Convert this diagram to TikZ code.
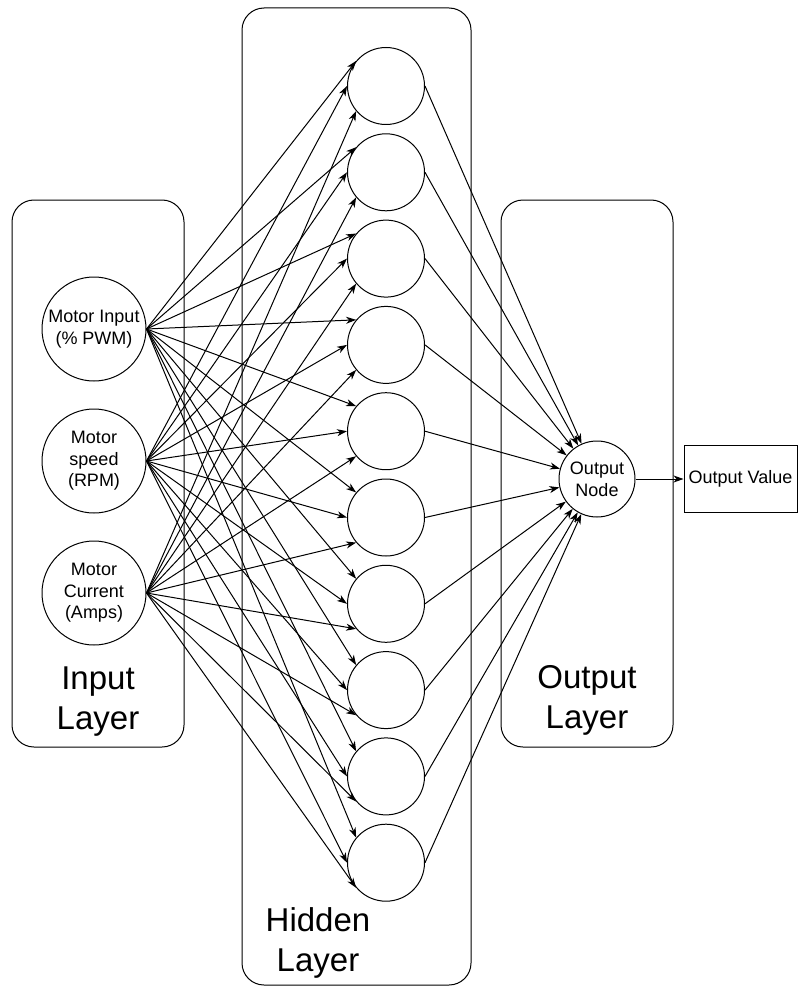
\documentclass[tikz,border=0pt]{standalone}
\usepackage{fontspec}
\setmainfont{Liberation Sans}
\usetikzlibrary{arrows.meta,positioning}

\begin{document}
\begin{tikzpicture}[x=1pt,y=-1pt,line width=1pt,
	neuron/.style={draw, circle, fill=white, inner sep=0pt, align=center, font=\fontsize{18}{21.6}\selectfont},
	layerbox/.style={draw, rounded corners=22pt},
	layertext/.style={align=center, font=\fontsize{33}{40}\selectfont},
	link/.style={-{Stealth[length=10pt,width=7pt,inset=3pt]}}]
	\useasboundingbox (0,0) rectangle (798,987);
	% layer boxes
	\draw[layerbox] (12,200) rectangle (184,747);
	\draw[layerbox] (242,8) rectangle (471,985);
	\draw[layerbox] (501,200) rectangle (673,747);
	\node[layertext] (inlabel) at (98,702) {Input\\Layer};
	\node[layertext] (hidlabel) at (318,943) {Hidden\\Layer};
	\node[layertext] (outlabel) at (587,700) {Output\\Layer};
	
	\node[neuron, minimum size=104pt] (in1) at (94,329) {Motor Input\\(\% PWM)};
	\node[neuron, minimum size=104pt] (in2) at (94,461) {Motor\\speed\\(RPM)};
	\node[neuron, minimum size=104pt] (in3) at (94,593) {Motor\\Current\\(Amps)};
	\foreach \j in {1,...,10}
		\node[neuron, minimum size=77pt] (h\j) at (386,{86+(\j-1)*86.3}) {};
	\node[neuron, minimum size=76pt] (onode) at (597,479) {Output\\Node};
	\node[draw, minimum width=113pt, minimum height=67pt, inner sep=0pt,
		font=\fontsize{18}{21.6}\selectfont, right=48pt of onode] (oval) {Output Value};
	
	\foreach \j in {1,...,10}{
		\draw[link] (in1.east) -- (h\j.140);
		\draw[link] (in2.east) -- (h\j.west);
		\draw[link] (in3.east) -- (h\j.220);
		\draw[link] (h\j.east) -- (onode);
	}
	\draw[link] (onode.east) -- (oval.west);
\end{tikzpicture}
\end{document}
